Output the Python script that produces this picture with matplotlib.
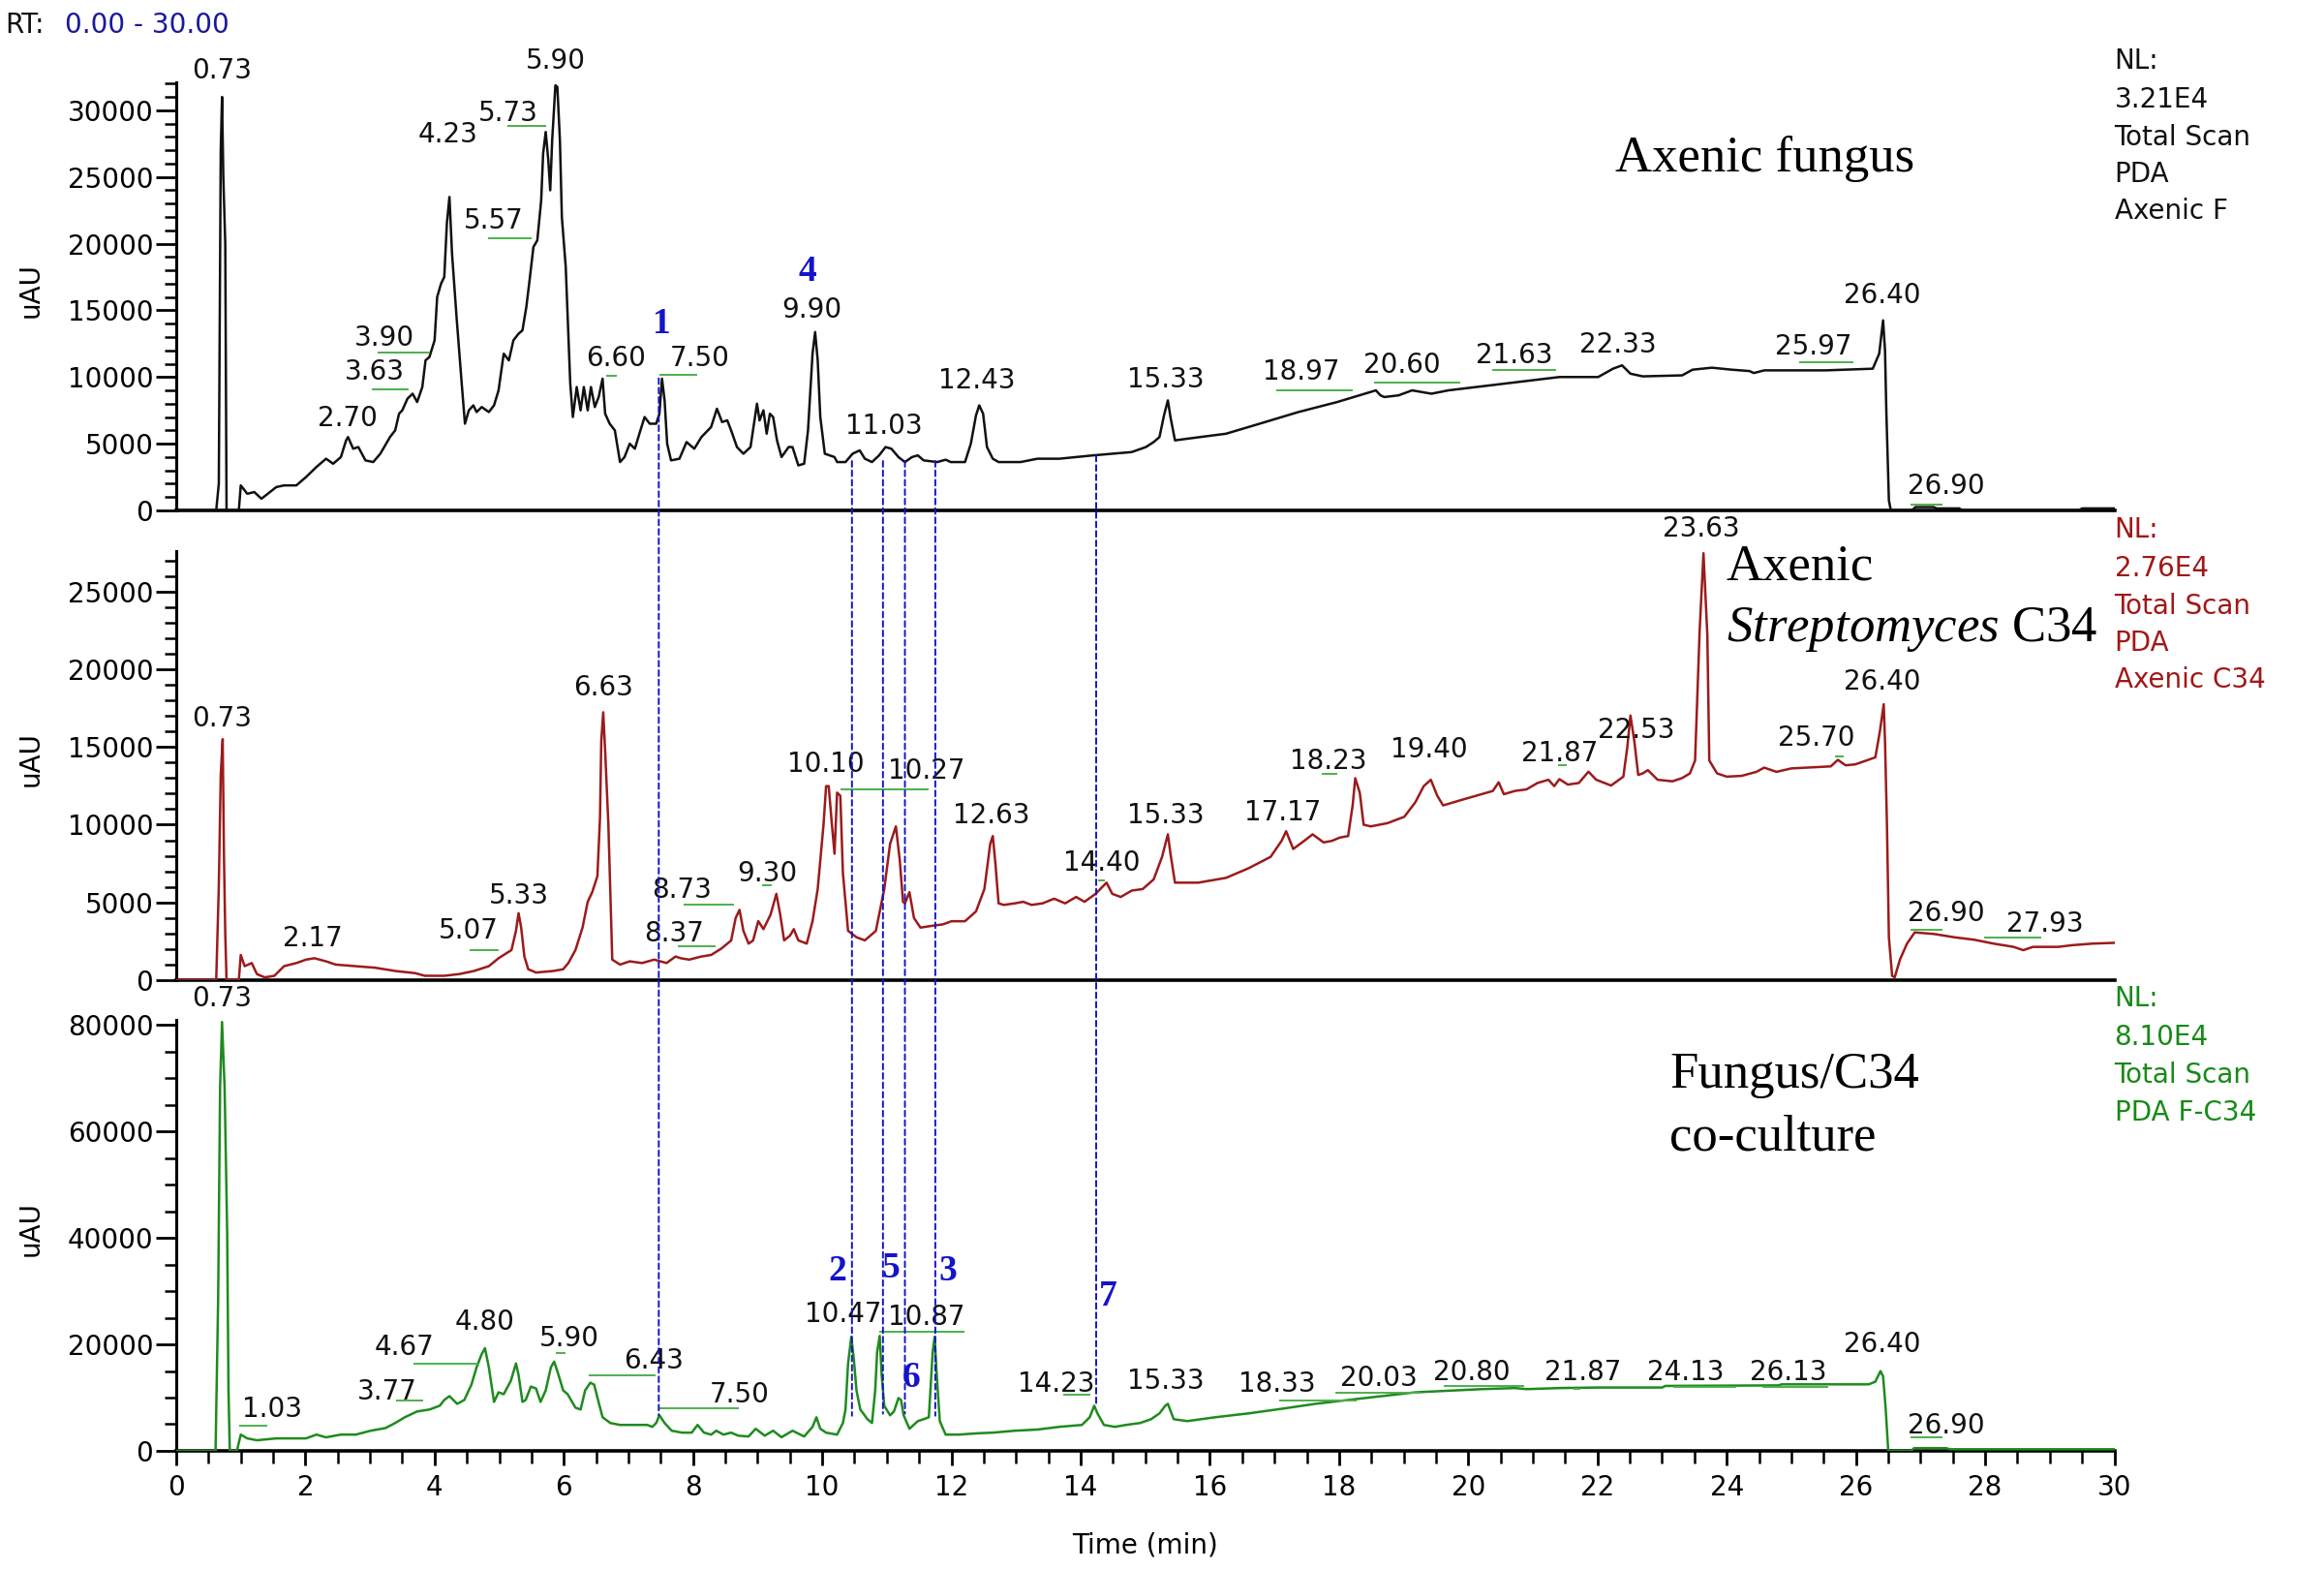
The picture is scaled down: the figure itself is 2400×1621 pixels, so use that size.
import numpy as np
import matplotlib
matplotlib.use("Agg")
import matplotlib.pyplot as plt
from matplotlib.patches import ConnectionPatch
from matplotlib.ticker import MultipleLocator

plt.rcParams['font.family'] = ['DejaVu Sans']
plt.rcParams['mathtext.fontset'] = 'custom'
plt.rcParams['mathtext.rm'] = 'Liberation Serif'
plt.rcParams['mathtext.it'] = 'Liberation Serif:italic'

# ======================== Trace data ========================
fungus_t = [0.0, 0.62, 0.66, 0.69, 0.71, 0.73, 0.76, 0.78, 0.97,
            1.00, 1.10, 1.21, 1.32, 1.55, 1.67, 1.86, 2.01, 2.17, 2.32, 2.43, 2.55, 2.63, 2.66, 2.74, 2.82,
            2.93, 3.05, 3.16, 3.31, 3.39, 3.45, 3.50, 3.58, 3.66, 3.73, 3.81, 3.86, 3.92, 4.00, 4.04, 4.10,
            4.15, 4.19, 4.23, 4.27, 4.34, 4.42, 4.47, 4.53, 4.60, 4.65, 4.73, 4.84, 4.92, 4.99, 5.07, 5.15,
            5.22, 5.30, 5.36, 5.42, 5.47, 5.53, 5.59, 5.65, 5.68, 5.72, 5.76, 5.79, 5.82, 5.87, 5.90, 5.94,
            5.97, 6.03, 6.07, 6.10, 6.14, 6.20, 6.26, 6.31, 6.37, 6.42, 6.48, 6.54, 6.60, 6.64, 6.71, 6.79,
            6.87, 6.94, 7.02, 7.10, 7.17, 7.25, 7.33, 7.43, 7.48, 7.52, 7.56, 7.60, 7.66, 7.79, 7.90, 8.02,
            8.13, 8.28, 8.37, 8.45, 8.53, 8.59, 8.68, 8.78, 8.89, 8.99, 9.03, 9.09, 9.14, 9.19, 9.24, 9.30,
            9.37, 9.48, 9.54, 9.63, 9.72, 9.78, 9.85, 9.89, 9.93, 9.97, 10.04, 10.19, 10.23, 10.36, 10.47,
            10.58, 10.66, 10.77, 10.88, 10.98, 11.07, 11.18, 11.28, 11.39, 11.48, 11.57, 11.78, 11.91, 11.99,
            12.21, 12.30, 12.38, 12.43, 12.49, 12.55, 12.64, 12.73, 13.07, 13.33, 13.67, 14.19, 14.79, 15.01,
            15.13, 15.22, 15.29, 15.35, 15.39, 15.46, 15.65, 16.25, 16.77, 17.37, 17.97, 18.57, 18.64, 18.70,
            18.92, 19.13, 19.43, 19.69, 20.55, 21.41, 22.01, 22.24, 22.38, 22.51, 22.70, 23.31, 23.47, 23.77,
            24.08, 24.35, 24.42, 24.58, 25.53, 25.84, 26.26, 26.36, 26.42, 26.45, 26.47, 26.51, 26.54, 26.87,
            26.92, 27.20, 27.25, 27.60, 27.65, 29.45, 29.50, 30.0]
fungus_y = [0, 0, 2000, 27000, 31000, 25000, 20000, 0, 0,
            1875, 1250, 1375, 875, 1750, 1875, 1875, 2500, 3250, 3875, 3500, 4000, 5250, 5500, 4625, 4750,
            3750, 3625, 4250, 5500, 6000, 7250, 7500, 8375, 8750, 8125, 9250, 11250, 11500, 12750, 16000, 17000,
            17500, 21500, 23500, 19250, 14500, 9500, 6500, 7500, 7875, 7375, 7750, 7375, 7875, 9000, 11750, 11250,
            12750, 13250, 13500, 15250, 17250, 19750, 20250, 23250, 26750, 28375, 26250, 24000, 27750, 31875, 31750, 27750,
            22000, 18250, 13250, 9500, 7000, 9250, 7500, 9250, 7500, 9250, 7750, 8500, 9875, 7250, 6500, 6000,
            3625, 4000, 5000, 4625, 5750, 7000, 6500, 6500, 7250, 9875, 8250, 5000, 3750, 3875, 5125, 4625,
            5500, 6250, 7625, 6625, 6750, 6000, 4750, 4250, 4750, 8000, 6750, 7500, 5750, 7250, 7000, 5250,
            4000, 4750, 4750, 3375, 3500, 6000, 11750, 13375, 11250, 7000, 4250, 4000, 3625, 3625, 4250,
            4500, 3875, 3625, 4125, 4750, 4625, 4000, 3625, 4000, 4125, 3750, 3625, 3800, 3625,
            3625, 5000, 7125, 7875, 7250, 4750, 3875, 3625, 3625, 3875, 3875, 4125, 4375, 4750,
            5125, 5500, 7125, 8250, 7000, 5250, 5375, 5750, 6500, 7375, 8125, 9000, 8625, 8500,
            8625, 9000, 8750, 9000, 9500, 10000, 10000, 10625, 10875, 10250, 10050, 10125, 10550, 10700,
            10550, 10450, 10300, 10500, 10500, 10550, 10625, 11750, 14250, 12000, 7500, 750, 0, 0,
            250, 250, 150, 150, 0, 0, 150, 150]

c34_t = [0.0, 0.62, 0.66, 0.69, 0.72, 0.74, 0.76, 0.78, 0.97, 1.00, 1.06, 1.17, 1.25, 1.37, 1.52, 1.67, 1.86,
         2.01, 2.14, 2.32, 2.47, 2.78, 3.08, 3.39, 3.70, 3.85, 4.15, 4.38, 4.61, 4.84, 4.99, 5.07, 5.19, 5.26,
         5.30, 5.34, 5.39, 5.45, 5.57, 5.84, 5.99, 6.07, 6.18, 6.29, 6.37, 6.44, 6.52, 6.56, 6.58, 6.61, 6.64,
         6.69, 6.75, 6.87, 7.02, 7.21, 7.40, 7.59, 7.73, 7.81, 7.94, 8.13, 8.28, 8.44, 8.59, 8.66, 8.72, 8.78,
         8.86, 8.93, 9.01, 9.09, 9.20, 9.29, 9.35, 9.41, 9.50, 9.56, 9.63, 9.76, 9.85, 9.93, 10.02, 10.06,
         10.10, 10.15, 10.19, 10.23, 10.28, 10.32, 10.40, 10.53, 10.66, 10.83, 10.96, 11.05, 11.14, 11.20,
         11.25, 11.28, 11.35, 11.42, 11.52, 11.69, 11.87, 12.00, 12.21, 12.38, 12.51, 12.60, 12.64, 12.68,
         12.73, 12.81, 12.98, 13.11, 13.24, 13.41, 13.59, 13.76, 13.93, 14.06, 14.23, 14.40, 14.49, 14.62,
         14.79, 14.96, 15.13, 15.26, 15.35, 15.39, 15.46, 15.82, 16.25, 16.60, 16.94, 17.11, 17.18, 17.29,
         17.46, 17.59, 17.76, 17.89, 18.01, 18.14, 18.21, 18.25, 18.32, 18.38, 18.49, 18.75, 19.01, 19.18,
         19.31, 19.42, 19.52, 19.61, 19.86, 20.12, 20.38, 20.47, 20.55, 20.72, 20.90, 21.07, 21.24, 21.33,
         21.41, 21.54, 21.71, 21.86, 21.98, 22.21, 22.40, 22.46, 22.51, 22.57, 22.63, 22.70, 22.78, 22.93,
         23.16, 23.31, 23.43, 23.51, 23.58, 23.64, 23.70, 23.73, 23.85, 24.00, 24.23, 24.46, 24.58, 24.77,
         25.00, 25.61, 25.72, 25.84, 25.99, 26.30, 26.37, 26.43, 26.45, 26.48, 26.51, 26.56, 26.60, 26.68,
         26.79, 26.91, 27.21, 27.52, 27.83, 28.13, 28.44, 28.59, 28.74, 29.13, 29.35, 29.66, 30.0]
c34_y = [0, 0, 6000, 13200, 15500, 8000, 3000, 0, 0, 1620, 900, 1100, 390, 180, 280, 900, 1100,
         1320, 1410, 1210, 1000, 900, 800, 590, 450, 280, 280, 390, 590, 900, 1410, 1620, 1935, 3180,
         4310, 3380, 1520, 700, 490, 590, 700, 1100, 1935, 3380, 5040, 5660, 6690, 10410, 15370, 17230, 14750,
         10000, 1320, 1000, 1210, 1100, 1320, 1100, 1520, 1410, 1320, 1520, 1620, 2035, 2550, 4000, 4520, 3170,
         2350, 2550, 3800, 3280, 4210, 5550, 4210, 2560, 2860, 3280, 2560, 2350, 3790, 5860, 10000, 12480,
         12480, 10000, 8130, 12060, 11860, 6900, 3170, 2760, 2560, 3170, 5860, 8760, 9890, 7720,
         5040, 4940, 5660, 4000, 3380, 3490, 3590, 3790, 3790, 4420, 5860, 8760, 9270, 7520,
         4940, 4840, 4940, 5040, 4840, 4940, 5240, 4940, 5350, 5040, 5550, 6270, 5550, 5350,
         5760, 5860, 6480, 7930, 9380, 8140, 6270, 6270, 6580, 7200, 7930, 8960, 9580, 8440,
         8960, 9380, 8860, 8960, 9170, 9270, 11240, 12990, 12060, 10000, 9890, 10100, 10510, 11440,
         12480, 12890, 11860, 11240, 11550, 11860, 12170, 12730, 11960, 12170, 12270, 12680, 12890, 12480,
         12930, 12580, 12680, 13410, 12890, 12520, 13090, 14950, 17020, 15370, 13200, 13300, 13510, 12890,
         12790, 13000, 13300, 14130, 22400, 27460, 22190, 14130, 13300, 13090, 13140, 13400, 13670, 13400,
         13620, 13750, 14170, 13820, 13880, 14330, 15990, 17750, 15370, 9990, 2760, 280, 180, 1310,
         2350, 3070, 2970, 2760, 2600, 2350, 2140, 1930, 2140, 2140, 2250, 2350, 2400]

cocult_t = [0.0, 0.61, 0.65, 0.68, 0.71, 0.75, 0.79, 0.81, 0.83, 0.94, 1.00, 1.10, 1.25, 1.55, 2.01, 2.17,
            2.32, 2.55, 2.78, 3.01, 3.24, 3.39, 3.54, 3.73, 3.92, 4.08, 4.15, 4.23, 4.35, 4.46, 4.57, 4.65,
            4.73, 4.78, 4.84, 4.92, 4.99, 5.07, 5.18, 5.26, 5.30, 5.36, 5.41, 5.49, 5.57, 5.64, 5.72, 5.80,
            5.85, 5.91, 5.99, 6.06, 6.18, 6.26, 6.33, 6.41, 6.47, 6.53, 6.60, 6.72, 6.87, 7.18, 7.29, 7.37,
            7.43, 7.48, 7.56, 7.67, 7.83, 7.98, 8.07, 8.17, 8.28, 8.36, 8.47, 8.59, 8.70, 8.86, 8.97, 9.11,
            9.24, 9.37, 9.54, 9.72, 9.85, 9.91, 9.97, 10.06, 10.23, 10.32, 10.36, 10.40, 10.45, 10.49, 10.53,
            10.59, 10.70, 10.77, 10.82, 10.85, 10.89, 10.92, 10.96, 11.05, 11.11, 11.18, 11.22, 11.26, 11.35,
            11.48, 11.57, 11.65, 11.71, 11.74, 11.78, 11.82, 11.91, 12.12, 12.38, 12.64, 12.98, 13.33, 13.67,
            14.02, 14.14, 14.21, 14.26, 14.36, 14.53, 14.70, 14.92, 15.09, 15.22, 15.31, 15.35, 15.44, 15.65,
            16.08, 16.60, 17.11, 17.63, 18.14, 18.66, 19.18, 19.69, 20.21, 20.72, 20.90, 21.41, 22.00, 23.00,
            23.05, 24.80, 24.85, 26.20, 26.30, 26.38, 26.42, 26.46, 26.50, 26.85, 26.90, 27.40, 27.45, 30.0]
cocult_y = [0, 0, 28700, 68300, 80600, 68300, 40900, 11400, 0, 0, 3050, 2340, 1990, 2340, 2340, 3050,
            2540, 3050, 3050, 3780, 4280, 5230, 6320, 7400, 7760, 8480, 9560, 10280, 8830, 9560, 12440, 15690,
            18210, 19290, 15690, 9200, 11000, 10640, 13160, 16420, 14240, 9200, 9560, 12080, 11720, 9200, 11360, 15690,
            16770, 14600, 11360, 10640, 8120, 7760, 11360, 12800, 12440, 9560, 6320, 5230, 4870, 4870, 4870, 4510,
            5230, 6680, 5230, 3780, 3420, 3420, 4870, 3420, 3050, 3780, 3050, 3420, 2850, 2700, 4150, 2850,
            3780, 2560, 3780, 2700, 4510, 6310, 4150, 3420, 3050, 5230, 7760, 16400, 21450, 17120, 11360,
            7760, 5950, 5230, 11360, 18570, 21600, 14240, 8480, 6680, 7400, 9920, 9560, 6680, 4150,
            5590, 5950, 6310, 18570, 21450, 12800, 5590, 3050, 3050, 3280, 3420, 3780, 4000, 4510,
            4870, 6310, 8480, 7040, 4870, 4510, 4870, 5230, 5950, 7040, 8480, 8830, 5950, 5590,
            6310, 7040, 7900, 8830, 9560, 10280, 11000, 11300, 11600, 11800, 11600, 11800, 11900, 11900,
            12200, 12300, 12500, 12500, 13000, 15000, 14000, 8000, 0, 0, 500, 500, 300, 300]

# peak retention-time labels: (text, x, y) in each panel's data units
fungus_peaks = [("0.73", 0.71, 33000), ("5.90", 5.87, 33700), ("4.23", 4.20, 28200), ("5.73", 5.14, 29800),
                ("5.57", 4.91, 21700), ("3.90", 3.23, 12900), ("3.63", 3.07, 10400), ("2.70", 2.66, 6900),
                ("6.60", 6.81, 11400), ("7.50", 8.10, 11400), ("9.90", 9.84, 15000), ("11.03", 10.96, 6300),
                ("12.43", 12.39, 9700), ("15.33", 15.32, 9800), ("18.97", 17.41, 10400), ("20.60", 18.97, 10900),
                ("21.63", 20.71, 11600), ("22.33", 22.32, 12400), ("25.97", 25.34, 12300), ("26.40", 26.40, 16100),
                ("26.90", 27.39, 1800)]
c34_peaks = [("23.63", 23.60, 29000), ("0.73", 0.71, 16800), ("6.63", 6.61, 18800), ("2.17", 2.11, 2670),
             ("5.33", 5.30, 5440), ("5.07", 4.52, 3150), ("8.73", 7.82, 5820), ("8.37", 7.71, 2960),
             ("9.30", 9.15, 6870), ("10.10", 10.05, 13900), ("10.27", 11.61, 13450), ("12.63", 12.61, 10600),
             ("14.40", 14.33, 7540), ("15.33", 15.32, 10600), ("17.17", 17.13, 10800), ("18.23", 17.84, 14100),
             ("19.40", 19.40, 14800), ("21.87", 21.42, 14600), ("22.53", 22.60, 16100), ("25.70", 25.39, 15550),
             ("26.40", 26.40, 19200), ("26.90", 27.39, 4290), ("27.93", 28.92, 3630)]
cocult_peaks = [("0.73", 0.71, 85000), ("1.03", 1.49, 7800), ("3.77", 3.26, 11150), ("4.67", 3.53, 19500),
                ("4.80", 4.77, 24250), ("5.90", 6.08, 21200), ("6.43", 7.39, 17000), ("7.50", 8.72, 10600),
                ("10.47", 10.33, 25650), ("10.87", 11.62, 25100), ("14.23", 13.62, 12500), ("15.33", 15.32, 13100),
                ("18.33", 17.04, 12500), ("20.03", 18.62, 13650), ("20.80", 20.05, 14800), ("21.87", 21.77, 14800),
                ("24.13", 23.37, 14800), ("26.13", 24.95, 14800), ("26.40", 26.40, 20000), ("26.90", 27.39, 4700)]

# green peak-baseline ticks: (t_start, t_end, level)
fungus_base = [(5.14, 5.71, 28800), (4.84, 5.48, 20400), (3.14, 3.92, 11800), (3.05, 3.58, 9100),
               (6.67, 6.81, 10100), (7.50, 8.05, 10200), (17.04, 18.19, 9000), (18.56, 19.86, 9550),
               (20.39, 21.35, 10550), (25.14, 25.94, 11100), (26.86, 27.32, 450)]
c34_base = [(4.56, 4.98, 1900), (7.78, 8.33, 2200), (7.87, 8.62, 4870), (9.08, 9.20, 6100),
            (10.30, 11.63, 12300), (14.29, 14.36, 6400), (17.75, 17.96, 13260), (21.40, 21.51, 13840),
            (25.69, 25.80, 14400), (26.86, 27.32, 3240), (28.00, 28.85, 2770)]
cocult_base = [(0.99, 1.40, 4740), (3.42, 3.81, 9480), (3.69, 4.66, 16450), (5.89, 6.01, 18400),
               (6.40, 7.41, 14200), (7.50, 8.69, 8080), (10.89, 12.18, 22300), (13.74, 14.13, 10600),
               (17.09, 18.26, 9480), (17.96, 19.24, 10870), (19.63, 20.85, 12260), (21.65, 21.72, 11700),
               (23.19, 24.13, 12000), (24.56, 25.55, 12000), (26.86, 27.32, 2500)]

# compound markers linking the traces: time, level in top trace, level in co-culture trace
marker_t = [7.47, 10.46, 10.94, 11.28, 11.75, 14.24]
marker_top = [9900, 3700, 3700, 3700, 3700, 4100]
marker_bot = [6700, 6600, 7000, 7000, 6600, 8500]
# compound numbers: (text, x, y)
num_top = [("1", 7.52, 14000), ("4", 9.77, 17900)]
num_bot = [("2", 10.23, 33700), ("5", 11.06, 34300), ("3", 11.95, 33700), ("6", 11.38, 13700), ("7", 14.43, 29000)]

# NL info text
fungus_nl = ["NL:", "3.21E4", "Total Scan", "PDA", "Axenic F"]
c34_nl = ["NL:", "2.76E4", "Total Scan", "PDA", "Axenic C34"]
cocult_nl = ["NL:", "8.10E4", "Total Scan", "PDA F-C34"]

# ======================== Plot ========================
fig = plt.figure(figsize=(24, 16.21), dpi=100)
fig.patch.set_facecolor('white')

ax1 = fig.add_axes([0.0758, 0.6749, 0.834, 0.2727])
ax2 = fig.add_axes([0.0758, 0.3757, 0.834, 0.2733])
ax3 = fig.add_axes([0.0758, 0.0759, 0.834, 0.2745])

black = '#111111'
red = '#9b1b1b'
green = '#1f8a1f'
lightgreen = '#4cb04c'
blue = '#1414c8'
fs = 20

panels = [
    (ax1, fungus_t, fungus_y, black, 32100, 5000, 1000, fungus_peaks, fungus_base, fungus_nl, black),
    (ax2, c34_t, c34_y, red, 27600, 5000, 1000, c34_peaks, c34_base, c34_nl, '#a01818'),
    (ax3, cocult_t, cocult_y, green, 81000, 20000, 5000, cocult_peaks, cocult_base, cocult_nl, '#178a17'),
]

nl_frac = [1.05, 0.96, 0.871, 0.785, 0.70]
for ax, t, y, col, ymax, maj, mnr, peaks, base, nl, nlcol in panels:
    ax.plot(t, y, color=col, lw=1.8, zorder=3)
    ax.set_xlim(0, 30)
    ax.set_ylim(0, ymax)
    ax.set_facecolor('none')
    for s in ['top', 'right']:
        ax.spines[s].set_visible(False)
    ax.spines['left'].set_linewidth(2.2)
    ax.spines['bottom'].set_linewidth(2.6)
    ax.yaxis.set_major_locator(MultipleLocator(maj))
    ax.yaxis.set_minor_locator(MultipleLocator(mnr))
    ax.tick_params(axis='y', which='major', direction='out', length=15, width=2, labelsize=fs, pad=2)
    ax.tick_params(axis='y', which='minor', direction='out', length=9, width=1.8)
    ax.set_ylabel('uAU', fontsize=fs)
    ax.yaxis.set_label_coords(-0.068, 0.515)
    for txt, px, py in peaks:
        ax.text(px, py, txt, fontsize=fs, ha='center', va='center', color=black, zorder=5)
    for x0, x1, lv in base:
        ax.plot([x0, x1], [lv, lv], color=lightgreen, lw=1.4, zorder=4)
    for i, line in enumerate(nl):
        ax.text(1.0, nl_frac[i], line, transform=ax.transAxes, fontsize=fs,
                ha='left', va='center', color=nlcol)

for ax in (ax1, ax2):
    ax.tick_params(axis='x', which='both', bottom=False, labelbottom=False)

ax3.xaxis.set_major_locator(MultipleLocator(2))
ax3.xaxis.set_minor_locator(MultipleLocator(0.5))
ax3.tick_params(axis='x', which='major', direction='out', length=11, width=2, labelsize=fs, pad=6)
ax3.tick_params(axis='x', which='minor', direction='out', length=9, width=1.8)
ax3.set_xlabel('Time (min)', fontsize=fs)
ax3.xaxis.set_label_coords(0.5, -0.187)

# panel titles
ax1.text(22.27, 0.821, 'Axenic fungus', transform=ax1.get_xaxis_transform(),
         family='Liberation Serif', fontsize=38, ha='left', va='center')
ax2.text(23.99, 0.962, 'Axenic', transform=ax2.get_xaxis_transform(),
         family='Liberation Serif', fontsize=38, ha='left', va='center')
ax2.text(23.99, 0.817, r'$\mathit{Streptomyces}$ C34', transform=ax2.get_xaxis_transform(),
         family='Liberation Serif', fontsize=38, ha='left', va='center')
ax3.text(23.12, 0.872, 'Fungus/C34', transform=ax3.get_xaxis_transform(),
         family='Liberation Serif', fontsize=38, ha='left', va='center')
ax3.text(23.12, 0.726, 'co-culture', transform=ax3.get_xaxis_transform(),
         family='Liberation Serif', fontsize=38, ha='left', va='center')

# dashed marker lines spanning the three panels
for mt, vt, vb in zip(marker_t, marker_top, marker_bot):
    con = ConnectionPatch(xyA=(mt, vt), coordsA=ax1.transData, xyB=(mt, vb), coordsB=ax3.transData,
                          color=blue, lw=1.4, linestyle=(0, (3, 2)), zorder=6)
    fig.add_artist(con)

for txt, px, py in num_top:
    ax1.text(px, py, txt, family='Liberation Serif', fontweight='bold', fontsize=27,
             color=blue, ha='center', va='center')
for txt, px, py in num_bot:
    ax3.text(px, py, txt, family='Liberation Serif', fontweight='bold', fontsize=27,
             color=blue, ha='center', va='center')

fig.text(0.002, 0.984, 'RT:', fontsize=fs, ha='left', va='center', color=black)
fig.text(0.028, 0.984, '0.00 - 30.00', fontsize=fs, ha='left', va='center', color='#1a1a9a')

fig.savefig('out.png', dpi=100, facecolor='white')
